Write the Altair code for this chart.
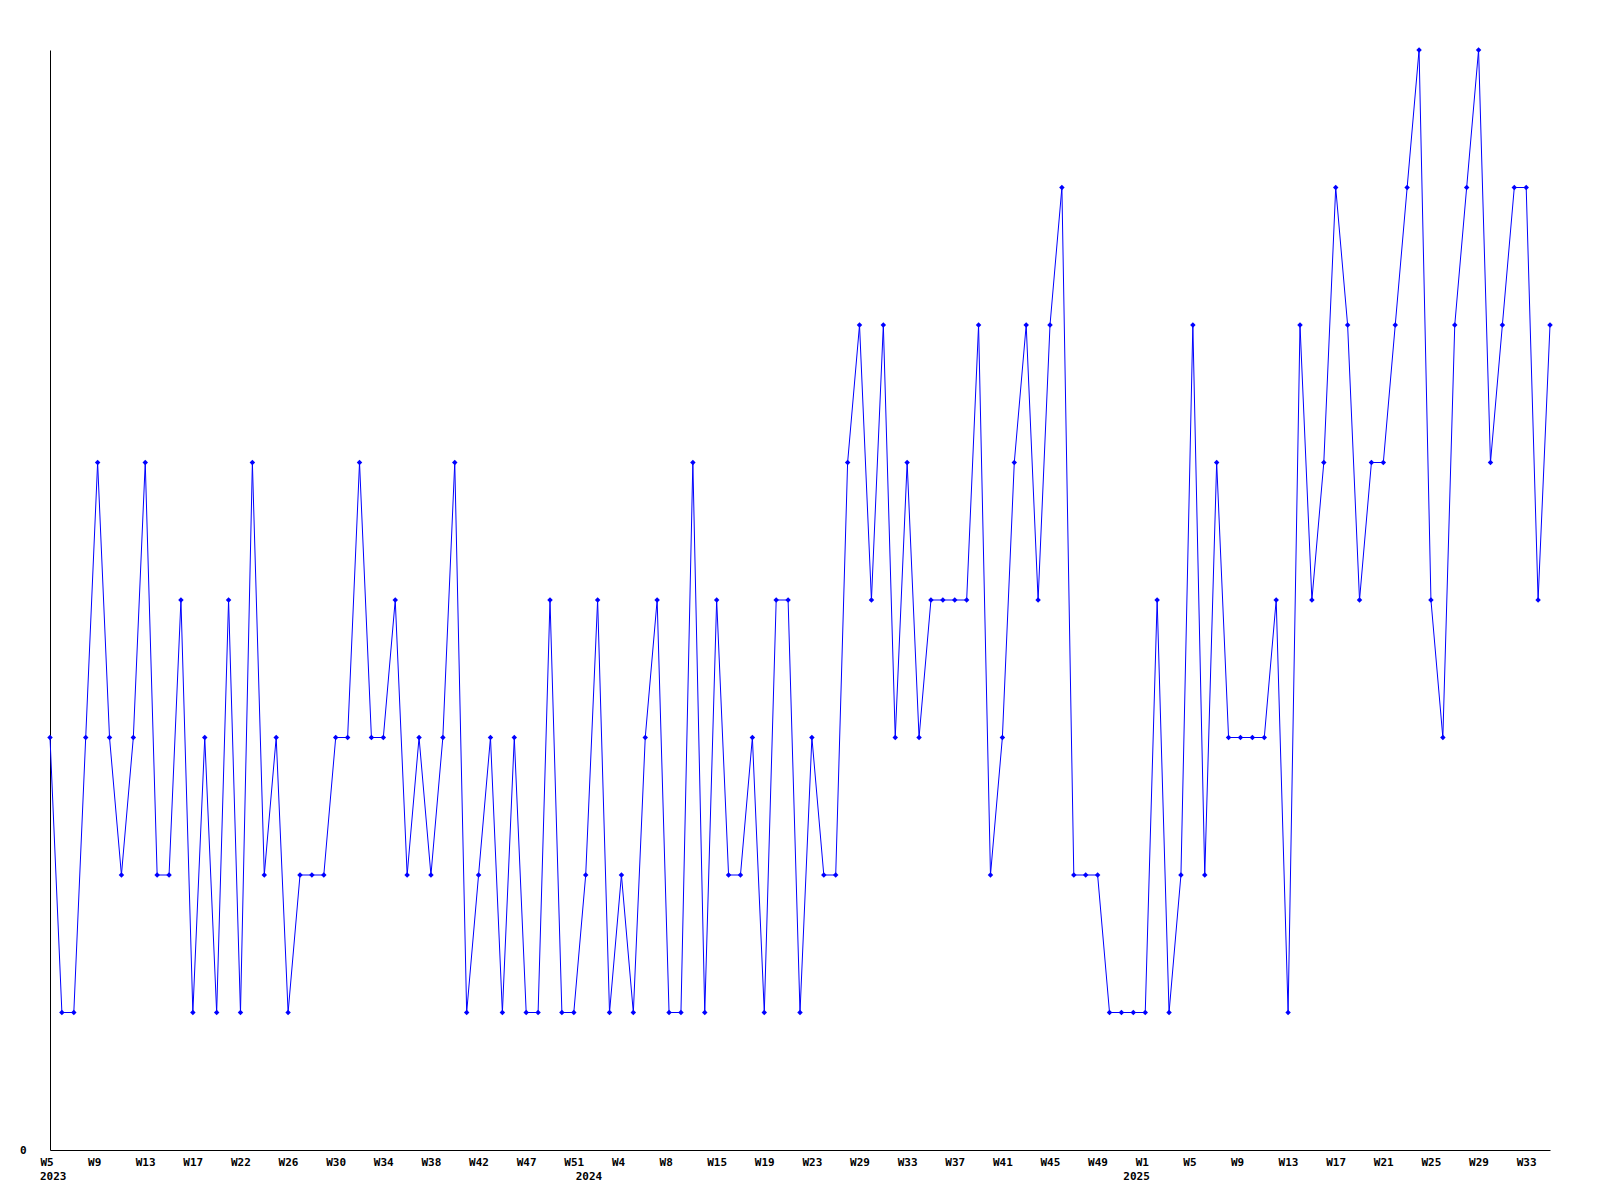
import altair as alt
import pandas as pd

# Weekly values (one point per week with data)
values = [
    3, 1, 1, 3, 5, 3, 2, 3, 5, 2, 2, 4, 1, 3, 1, 4, 1, 5, 2, 3,
    1, 2, 2, 2, 3, 3, 5, 3, 3, 4, 2, 3, 2, 3, 5, 1, 2, 3, 1, 3,
    1, 1, 4, 1, 1, 2, 4, 1, 2, 1, 3, 4, 1, 1, 5, 1, 4, 2, 2, 3,
    1, 4, 4, 1, 3, 2, 2, 5, 6, 4, 6, 3, 5, 3, 4, 4, 4, 4, 6, 2,
    3, 5, 6, 4, 6, 7, 2, 2, 2, 1, 1, 1, 1, 4, 1, 2, 6, 2, 5, 3,
    3, 3, 3, 4, 1, 6, 4, 5, 7, 6, 4, 5, 5, 6, 7, 8, 4, 3, 6, 7,
    8, 5, 6, 7, 7, 4, 6,
]

# Tick labels, one every 4th point
tick_labels = [
    "W5", "W9", "W13", "W17", "W22", "W26", "W30", "W34", "W38", "W42",
    "W47", "W51", "W4", "W8", "W15", "W19", "W23", "W29", "W33", "W37",
    "W41", "W45", "W49", "W1", "W5", "W9", "W13", "W17", "W21", "W25",
    "W29", "W33",
]
tick_step = 4

# Year labels and the point index where each year starts
year_labels = ["2023", "2024", "2025"]
year_index = [0, 45, 91]

df = pd.DataFrame({"idx": list(range(len(values))), "value": values})
years = pd.DataFrame({"idx": year_index, "year": year_labels})

tick_values = [i * tick_step for i in range(len(tick_labels))]
label_array = "[" + ",".join('"%s"' % t for t in tick_labels) + "]"
label_expr = label_array + "[round(datum.value / %d)]" % tick_step

FONT = "DejaVu Sans Mono"
BLUE = "#0000ff"

x_enc = alt.X(
    "idx:Q",
    scale=alt.Scale(domain=[0, len(values) - 1], nice=False, zero=False),
    axis=alt.Axis(
        values=tick_values,
        labelExpr=label_expr,
        title=None,
        grid=False,
        ticks=False,
        labelAlign="left",
        labelBaseline="top",
        labelOffset=-10,
        labelPadding=6,
        labelFlush=False,
        labelOverlap=False,
        labelFont=FONT,
        labelFontSize=11,
        labelFontWeight="bold",
        labelColor="black",
        domainColor="black",
        domainWidth=1,
    ),
)
y_enc = alt.Y(
    "value:Q",
    scale=alt.Scale(domain=[0, 8], nice=False, zero=True),
    axis=alt.Axis(
        values=[0],
        format="d",
        title=None,
        grid=False,
        ticks=False,
        labelPadding=24,
        labelBaseline="middle",
        labelFont=FONT,
        labelFontSize=11,
        labelFontWeight="bold",
        labelColor="black",
        domainColor="black",
        domainWidth=1,
    ),
)

line = alt.Chart(df).mark_line(color=BLUE, strokeWidth=1).encode(x=x_enc, y=y_enc)
pts = alt.Chart(df).mark_point(
    shape="diamond", filled=True, size=30, color=BLUE, opacity=1
).encode(x=alt.X("idx:Q"), y=alt.Y("value:Q"))

year_text = alt.Chart(years).mark_text(
    align="left", baseline="top", dx=-10, font=FONT, fontSize=11,
    fontWeight="bold", color="black"
).encode(x=alt.X("idx:Q"), y=alt.value(1121), text="year:N")

chart = (
    alt.layer(line, pts, year_text)
    .properties(
        width=1500,
        height=1100,
        autosize=alt.AutoSizeParams(type="none"),
        padding={"left": 42, "top": 42, "right": 20, "bottom": 40},
        background="white",
    )
    .configure_view(stroke=None)
)

chart.save("out.html", embed_options={"renderer": "svg", "actions": False})
